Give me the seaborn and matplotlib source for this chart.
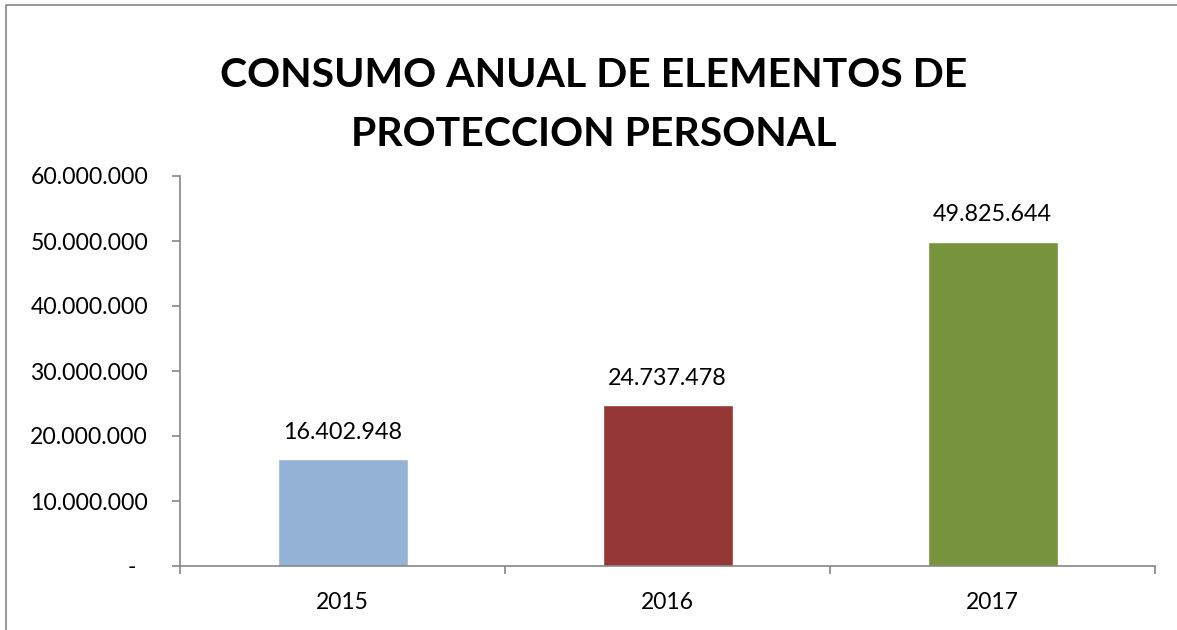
import matplotlib
matplotlib.use("Agg")
import matplotlib.pyplot as plt
import seaborn as sns
import pandas as pd
from matplotlib.lines import Line2D
from matplotlib.ticker import FixedLocator, FuncFormatter

years = ["2015", "2016", "2017"]
values = [16402948, 24737478, 49825644]
colors = ["#95B3D7", "#953735", "#77933C"]
title = "CONSUMO ANUAL DE ELEMENTOS DE\nPROTECCION PERSONAL"
yticks = [0, 10000000, 20000000, 30000000, 40000000, 50000000, 60000000]

sns.set_theme(style="white")
plt.rcParams["font.family"] = ["Lato", "DejaVu Sans"]

df = pd.DataFrame({"year": years, "value": values})

fig = plt.figure(figsize=(11.77, 6.30), dpi=100)
ax = fig.add_axes([180/1177, 1-566/630, 975/1177, 390/630])

sns.barplot(data=df, x="year", y="value", hue="year", palette=colors,
            width=0.4, legend=False, ax=ax, saturation=1)

def fmt(v, pos=None):
    if v == 0:
        return "-  "
    return f"{int(round(v)):,}".replace(",", ".")

ax.set_ylim(0, 60000000)
ax.set_xlim(-0.5, 2.5)
ax.yaxis.set_major_locator(FixedLocator(yticks))
ax.yaxis.set_major_formatter(FuncFormatter(fmt))
ax.set_xlabel("")
ax.set_ylabel("")

for p in ax.patches:
    h = p.get_height()
    if h is None or h != h or h <= 0:
        continue
    ax.annotate(fmt(h), (p.get_x() + p.get_width() / 2, h),
                xytext=(0, 12), textcoords="offset points",
                ha="center", va="bottom", fontsize=16.8, color="#000000")

grey = "#868686"
for s in ["top", "right"]:
    ax.spines[s].set_visible(False)
for s in ["left", "bottom"]:
    ax.spines[s].set_color(grey)
    ax.spines[s].set_linewidth(1.2)

ax.tick_params(axis="y", which="major", left=True, length=6, width=1.2,
               color=grey, labelsize=16.6, labelcolor="#000000", pad=17)
ax.tick_params(axis="x", which="major", bottom=False, length=0,
               labelsize=16.5, labelcolor="#000000", pad=19)
ax.set_xticks([-0.5, 0.5, 1.5, 2.5], minor=True)
ax.tick_params(axis="x", which="minor", bottom=True, length=6, width=1.2,
               color=grey)

fig.text(594/1177, 1-105/630, title, ha="center", va="center",
         fontsize=29.5, fontweight="bold", color="#000000", linespacing=1.75)

x0 = 5.5/1177
y0 = 1-4.5/630
fig.add_artist(Line2D([x0, x0], [0, y0], transform=fig.transFigure,
                      color=grey, linewidth=1.2))
fig.add_artist(Line2D([x0, 1.0], [y0, y0], transform=fig.transFigure,
                      color=grey, linewidth=1.2, solid_capstyle="butt"))

fig.savefig("out.png", dpi=100, facecolor="white", edgecolor="white")
